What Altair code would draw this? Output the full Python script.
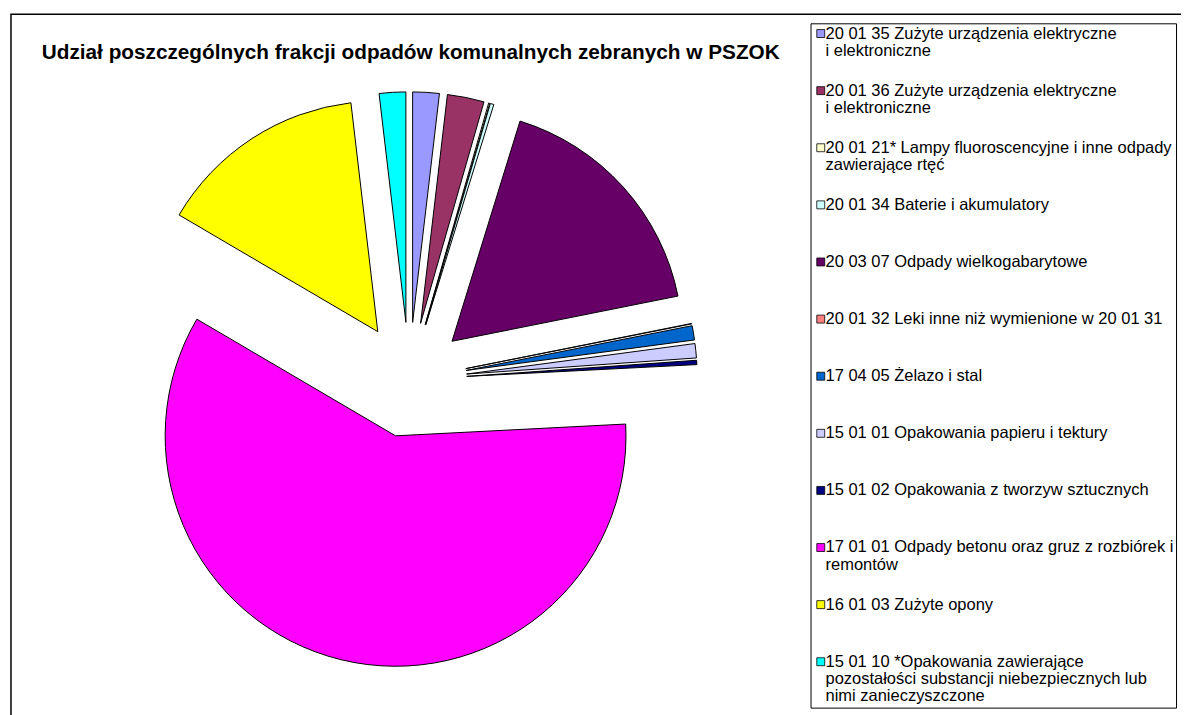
import altair as alt
import pandas as pd

labels = [
    " 20 01 35 Zużyte urządzenia elektryczne\ni elektroniczne",
    "20 01 36 Zużyte urządzenia elektryczne\ni elektroniczne",
    "20 01 21* Lampy fluoroscencyjne i inne odpady\nzawierające rtęć",
    "20 01 34 Baterie i akumulatory",
    "20 03 07 Odpady wielkogabarytowe",
    "20 01 32 Leki inne niż wymienione w 20 01 31",
    "17 04 05 Żelazo i stal",
    "15 01 01 Opakowania papieru i tektury",
    "15 01 02 Opakowania z tworzyw sztucznych",
    "17 01 01 Odpady betonu oraz gruz z rozbiórek i\nremontów",
    "16 01 03 Zużyte opony",
    "15 01 10 *Opakowania zawierające\npozostałości substancji niebezpiecznych lub\nnimi zanieczyszczone",
]
shares = [1.86, 2.58, 0.08, 0.25, 17.1, 0.03, 1.0, 1.0, 0.3, 59.3, 14.7, 1.86]
colors = ["#9999FF", "#993366", "#FFFFCC", "#CCFFFF", "#660066", "#FF8080",
          "#0066CC", "#CCCCFF", "#000080", "#FF00FF", "#FFFF00", "#00FFFF"]
title_text = "Udział poszczególnych frakcji odpadów komunalnych zebranych w PSZOK"

df = pd.DataFrame({"label": labels, "share": shares, "idx": list(range(len(labels)))})

R = 232
CX, CY = 401, 368
EXPLODE = 0.25

chart = (
    alt.Chart(df)
    .transform_window(cum="sum(share)", sort=[alt.SortField("idx", order="ascending")], frame=[None, 0])
    .transform_joinaggregate(total="sum(share)")
    .transform_calculate(
        a0="2*PI*(datum.cum - datum.share)/datum.total",
        a1="2*PI*datum.cum/datum.total",
    )
    .transform_calculate(
        ex=f"{EXPLODE}*sin((datum.a0+datum.a1)/2)",
        ey=f"-{EXPLODE}*cos((datum.a0+datum.a1)/2)",
    )
    .mark_arc(outerRadius=R, stroke="black", strokeWidth=1)
    .encode(
        x=alt.X("ex:Q", scale=alt.Scale(domain=[-1, 1], range=[CX - R, CX + R], zero=False, nice=False), axis=None),
        y=alt.Y("ey:Q", scale=alt.Scale(domain=[-1, 1], range=[CY - R, CY + R], zero=False, nice=False), axis=None),
        theta=alt.Theta("a0:Q", scale=None, stack=False),
        theta2="a1:Q",
        color=alt.Color(
            "label:N",
            scale=alt.Scale(domain=labels, range=colors),
            legend=alt.Legend(
                title=None,
                orient="none",
                legendX=805,
                legendY=9,
                direction="vertical",
                symbolType="square",
                symbolSize=64,
                symbolStrokeColor="black",
                symbolStrokeWidth=0.8,
                labelFont="Liberation Sans",
                labelFontSize=16.6,
                labelColor="black",
                labelLimit=600,
                labelOffset={"expr": "-3.5"},
                labelBaseline="middle",
                labelExpr="split(datum.label, '\\n')",
                gridAlign="all",
                rowPadding=5.5,
                strokeColor="black",
                padding=2,
                fillColor="white",
            ),
        ),
    )
    .properties(
        width=1183,
        height=708,
        autosize=alt.AutoSizeParams(type="none"),
        padding={"left": 3, "top": 4, "right": -5, "bottom": -5},
        title=alt.Title(
            title_text,
            anchor="start",
            frame="group",
            font="Liberation Sans",
            fontSize=20.9,
            fontWeight="bold",
            color="black",
            baseline="alphabetic",
            offset=0,
            dx=31,
            dy=66,
        ),
        background="white",
    )
    .configure(
        style={"guide-label": {"lineHeight": 17.5}},
        view=alt.ViewConfig(stroke="black", strokeWidth=1.5),
    )
)

chart.save("out.html", embed_options={"renderer": "svg", "actions": False})
